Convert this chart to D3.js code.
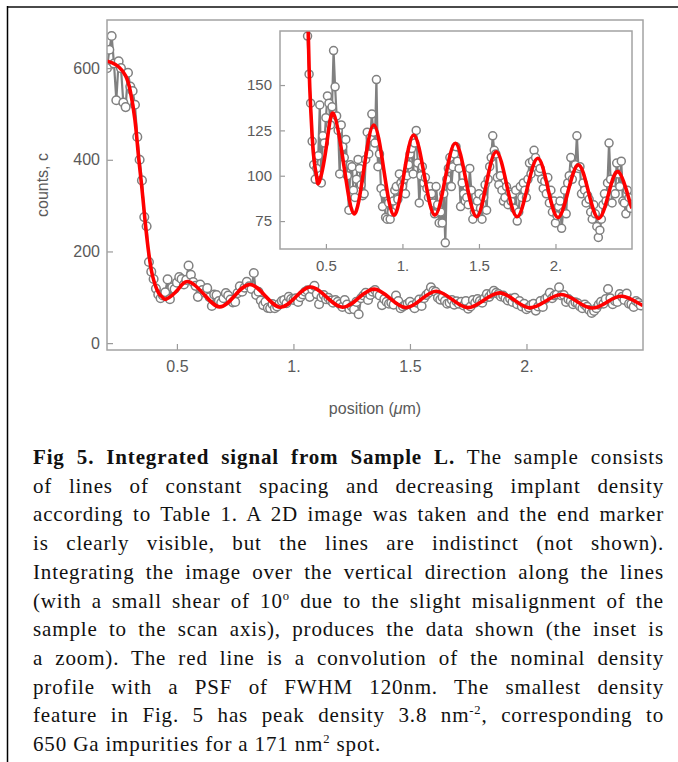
<!DOCTYPE html>
<html>
<head>
<meta charset="utf-8">
<script src="https://cdn.jsdelivr.net/npm/d3@7"></script>
<style>
  body { margin: 0; background: #fff; }
  #fig { position: relative; width: 678px; height: 762px; overflow: hidden; }
  #chart { position: absolute; left: 0; top: 0; }
  #caption {
    position: absolute; left: 33px; top: 443px; width: 631px;
    font-family: "Liberation Serif", serif; font-size: 21px; line-height: 28.7px; color: #111;
    letter-spacing: 0.85px;
  }
  #caption .ln { display: block; text-align: justify; text-align-last: justify; }
  #caption .ln.last { text-align-last: left; }
  #caption sup { font-size: 0.6em; line-height: 0; vertical-align: 0.6em; }
</style>
</head>
<body>
<div id="fig">
  <svg id="chart" width="678" height="762"></svg>
  <div id="caption">
    <span class="ln"><b>Fig 5. Integrated signal from Sample L.</b> The sample consists</span>
    <span class="ln">of lines of constant spacing and decreasing implant density</span>
    <span class="ln">according to Table 1. A 2D image was taken and the end marker</span>
    <span class="ln">is clearly visible, but the lines are indistinct (not shown).</span>
    <span class="ln">Integrating the image over the vertical direction along the lines</span>
    <span class="ln">(with a small shear of 10<sup>o</sup> due to the slight misalignment of the</span>
    <span class="ln">sample to the scan axis), produces the data shown (the inset is</span>
    <span class="ln">a zoom). The red line is a convolution of the nominal density</span>
    <span class="ln">profile with a PSF of FWHM 120nm. The smallest density</span>
    <span class="ln">feature in Fig. 5 has peak density 3.8 nm<sup>-2</sup>, corresponding to</span>
    <span class="ln last">650 Ga impurities for a 171 nm<sup>2</sup> spot.</span>
  </div>
</div>
<script>
// measured signal, position in um
const positions = [
  0.20,0.21,0.22,0.23,0.24,0.25,0.26,0.27,0.28,0.29,
  0.30,0.31,0.32,0.33,0.34,0.35,0.36,0.37,0.38,0.39,
  0.40,0.41,0.42,0.43,0.44,0.45,0.46,0.47,0.48,0.49,
  0.50,0.51,0.52,0.53,0.54,0.55,0.56,0.57,0.58,0.59,
  0.60,0.61,0.62,0.63,0.64,0.65,0.66,0.67,0.68,0.69,
  0.70,0.71,0.72,0.73,0.74,0.75,0.76,0.77,0.78,0.79,
  0.80,0.81,0.82,0.83,0.84,0.85,0.86,0.87,0.88,0.89,
  0.90,0.91,0.92,0.93,0.94,0.95,0.96,0.97,0.98,0.99,
  1.00,1.01,1.02,1.03,1.04,1.05,1.06,1.07,1.08,1.09,
  1.10,1.11,1.12,1.13,1.14,1.15,1.16,1.17,1.18,1.19,
  1.20,1.21,1.22,1.23,1.24,1.25,1.26,1.27,1.28,1.29,
  1.30,1.31,1.32,1.33,1.34,1.35,1.36,1.37,1.38,1.39,
  1.40,1.41,1.42,1.43,1.44,1.45,1.46,1.47,1.48,1.49,
  1.50,1.51,1.52,1.53,1.54,1.55,1.56,1.57,1.58,1.59,
  1.60,1.61,1.62,1.63,1.64,1.65,1.66,1.67,1.68,1.69,
  1.70,1.71,1.72,1.73,1.74,1.75,1.76,1.77,1.78,1.79,
  1.80,1.81,1.82,1.83,1.84,1.85,1.86,1.87,1.88,1.89,
  1.90,1.91,1.92,1.93,1.94,1.95,1.96,1.97,1.98,1.99,
  2.00,2.01,2.02,2.03,2.04,2.05,2.06,2.07,2.08,2.09,
  2.10,2.11,2.12,2.13,2.14,2.15,2.16,2.17,2.18,2.19,
  2.20,2.21,2.22,2.23,2.24,2.25,2.26,2.27,2.28,2.29,
  2.30,2.31,2.32,2.33,2.34,2.35,2.36,2.37,2.38,2.39,
  2.40,2.41,2.42,2.43,2.44,2.45,2.46,2.47,2.48,2.49
];
const counts = [
  600,640,670,610,530,615,600,525,515,590,
  560,550,520,450,400,355,275,255,177,156,
  140,119,106,98,104,111,139,96,122,118,
  132,144,140,128,138,169,149,133,125,101,
  128,116,110,120,100,81,106,105,92,88,
  98,109,104,95,89,90,109,124,112,121,
  134,124,118,153,105,112,93,83,90,77,
  76,85,76,80,86,92,94,87,101,96,
  94,98,90,100,106,112,115,101,118,125,
  107,85,100,105,96,99,93,88,94,90,
  85,79,94,84,74,80,74,90,63,98,
  104,110,94,105,112,116,108,104,83,96,
  90,86,88,84,104,92,76,80,83,86,
  90,82,76,88,95,81,98,105,110,122,
  114,112,99,95,100,92,86,88,94,84,
  91,86,90,82,92,75,80,94,88,96,
  92,88,98,107,101,108,114,110,107,102,
  104,98,93,97,90,99,85,92,80,86,
  74,78,83,86,71,80,92,79,96,100,
  110,98,104,106,122,104,105,90,96,92,
  85,89,87,80,76,84,79,72,66,70,
  76,84,90,86,96,118,98,85,92,90,
  107,101,94,108,86,85,79,92,88,82
];

// red line: convolution of nominal density with the PSF
const fitX = [0.20,0.22,0.25,0.28,0.30,0.32,0.334,0.349,0.363,0.377,0.39,0.40,0.41,0.42,0.43,0.44,0.456,
  0.502,0.548,0.6155,0.683,0.748,0.813,0.8785,0.944,1.009,1.074,1.1425,1.211,1.2785,1.346,1.4145,1.483,
  1.548,1.613,1.6805,1.748,1.8165,1.885,1.95,2.015,2.0825,2.15,2.215,2.28,2.345,2.41,2.4775,2.50];
const fitY = [615,612,603,583,550,487,414,342,269,205,160,138,122,111,104,99,96.5,
  115.5,134.5,106.8,79,103.5,128,103.2,78.3,100.4,122.4,100.4,78.3,98.1,117.9,97.7,77.4,
  95.3,113.2,95.3,77.4,93.5,109.6,93.3,77,91.5,106,91.3,76.5,89.4,102.2,88,82];

const xTicks = [0.5, 1, 1.5, 2];
const xTickLabels = ["0.5", "1.", "1.5", "2."];
const mainYTicks = [0, 200, 400, 600];
const insetYTicks = [75, 100, 125, 150];

const svg = d3.select("#chart");
const data = positions.map((p, i) => ({ x: p, y: counts[i] }));
const fit = fitX.map((p, i) => ({ x: p, y: fitY[i] }));

// outer figure border (top + left)
svg.append("line").attr("x1", 7).attr("x2", 678).attr("y1", 7).attr("y2", 7)
  .attr("stroke", "#4a4a4a").attr("stroke-width", 2);
svg.append("line").attr("x1", 7.5).attr("x2", 7.5).attr("y1", 6).attr("y2", 762)
  .attr("stroke", "#000").attr("stroke-width", 1.5);

function panel(id, xr, yr, ydom, yticks, o) {
  const x = d3.scaleLinear().domain([0.2, 2.5]).range(xr);
  const y = d3.scaleLinear().domain(ydom).range(yr);
  const g = svg.append("g");

  g.append("rect").attr("x", xr[0]).attr("y", yr[1])
    .attr("width", xr[1] - xr[0]).attr("height", yr[0] - yr[1]).attr("fill", "#fff");

  g.append("clipPath").attr("id", id).append("rect")
    .attr("x", xr[0]).attr("y", yr[1]).attr("width", xr[1] - xr[0]).attr("height", yr[0] - yr[1]);

  const plot = g.append("g").attr("clip-path", `url(#${id})`);
  const line = d3.line().x(d => x(d.x)).y(d => y(d.y));
  plot.append("path").datum(data).attr("d", line)
    .attr("fill", "none").attr("stroke", "#808080").attr("stroke-width", 2.2);
  plot.selectAll("circle").data(data).join("circle")
    .attr("cx", d => x(d.x)).attr("cy", d => y(d.y)).attr("r", o.r)
    .attr("fill", "#fff").attr("stroke", "#808080").attr("stroke-width", 1.5);
  plot.append("path").datum(fit)
    .attr("d", d3.line().x(d => x(d.x)).y(d => y(d.y)).curve(d3.curveNatural))
    .attr("fill", "none").attr("stroke", "#ff0000").attr("stroke-width", o.red);

  const xAxis = d3.axisBottom(x).tickValues(xTicks).tickFormat((d, i) => xTickLabels[i])
    .tickSize(-o.tick).tickPadding(o.xpad);
  const yAxis = d3.axisLeft(y).tickValues(yticks).tickFormat(d3.format("d"))
    .tickSize(-o.tick).tickPadding(o.ypad);
  const gx = g.append("g").attr("transform", `translate(0,${yr[0]})`).call(xAxis);
  const gy = g.append("g").attr("transform", `translate(${xr[0]},0)`).call(yAxis);
  [gx, gy].forEach(a => {
    a.select(".domain").remove();
    a.selectAll("line").attr("stroke", "#9a9a9a").attr("stroke-width", 1.2);
    a.selectAll("text").attr("fill", "#5a5a5a")
      .style("font-family", "Liberation Sans, Arial, sans-serif").style("font-size", o.font + "px");
  });

  g.append("rect").attr("x", xr[0]).attr("y", yr[1])
    .attr("width", xr[1] - xr[0]).attr("height", yr[0] - yr[1])
    .attr("fill", "none").attr("stroke", "#a3a3a3").attr("stroke-width", 1.5);
}

panel("clipMain", [107, 643], [350, 20], [-15, 705], mainYTicks,
  { r: 4.3, red: 3.6, tick: 6, xpad: 11, ypad: 7, font: 16 });
panel("clipInset", [280, 632], [249, 31], [59.6, 179.8], insetYTicks,
  { r: 4, red: 3.6, tick: 5, xpad: 11, ypad: 8, font: 15 });

// axis labels
svg.append("text").attr("transform", "translate(42,185) rotate(-90)")
  .attr("text-anchor", "middle").attr("dy", "0.35em")
  .attr("fill", "#5a5a5a").style("font-family", "Liberation Sans, Arial, sans-serif").style("font-size", "16px")
  .text("counts, c");
const xl = svg.append("text").attr("x", 375).attr("y", 414).attr("text-anchor", "middle")
  .attr("fill", "#5a5a5a").style("font-family", "Liberation Sans, Arial, sans-serif").style("font-size", "16px");
xl.append("tspan").text("position (");
xl.append("tspan").attr("font-style", "italic").text("\u03bc");
xl.append("tspan").text("m)");
</script>
</body>
</html>
